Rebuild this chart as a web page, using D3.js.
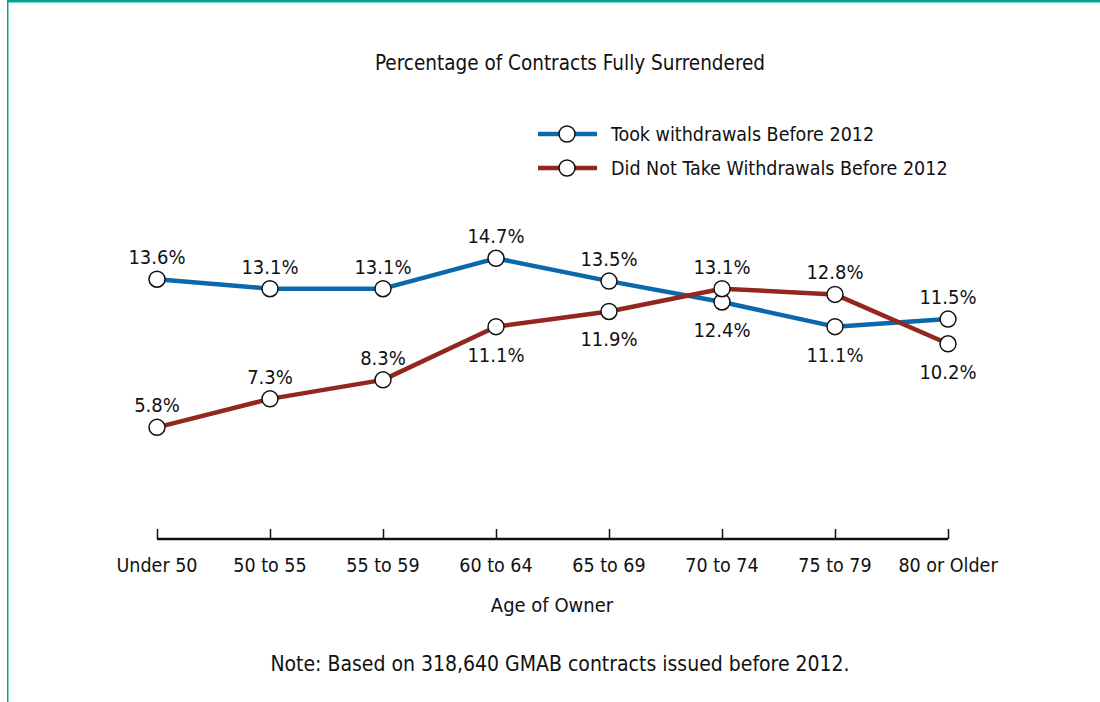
<!DOCTYPE html>
<html>
<head>
<meta charset="utf-8">
<script src="https://cdn.jsdelivr.net/npm/d3@7"></script>
<style>
  html, body { margin: 0; padding: 0; background: #fff; }
  svg { display: block; }
  text { font-family: "Liberation Sans Narrow", "DejaVu Sans Condensed", "Roboto Condensed", sans-serif; fill: #111; }
</style>
</head>
<body>
<svg id="chart" width="1100" height="702"></svg>
<script>
const categories = ["Under 50", "50 to 55", "55 to 59", "60 to 64", "65 to 69", "70 to 74", "75 to 79", "80 or Older"];
const tookValues = [13.6, 13.1, 13.1, 14.7, 13.5, 12.4, 11.1, 11.5];
const notTookValues = [5.8, 7.3, 8.3, 11.1, 11.9, 13.1, 12.8, 10.2];
// label placement: "a" above, "b" below
const tookLabelPos = ["a", "a", "a", "a", "a", "b", "b", "a"];
const notTookLabelPos = ["a", "a", "a", "b", "b", "a", "a", "b"];
const seriesNames = ["Took withdrawals Before 2012", "Did Not Take Withdrawals Before 2012"];
const seriesColors = ["#0b68aa", "#93261f"];

const svg = d3.select("#chart");

// frame
svg.append("rect").attr("x", 7).attr("y", 0).attr("width", 1093).attr("height", 2.5).attr("fill", "#00a38c");
svg.append("rect").attr("x", 7).attr("y", 0).attr("width", 1.5).attr("height", 702).attr("fill", "#00a38c");

const x = d3.scalePoint().domain(categories).range([157, 948]);
const y = d3.scaleLinear().domain([0, 14.7]).range([537.5, 258.3]);

// title
svg.append("text").attr("x", 570).attr("y", 70).attr("text-anchor", "middle")
  .attr("font-size", 20.5).text("Percentage of Contracts Fully Surrendered");

// axis
const axisG = svg.append("g").attr("transform", "translate(0,539)");
axisG.call(d3.axisTop(x).tickSize(10).tickFormat(""));
axisG.select(".domain").attr("d", `M${x(categories[0])},0H${x(categories[categories.length-1])}`)
  .attr("stroke", "#111").attr("stroke-width", 2.5);
axisG.selectAll(".tick line").attr("stroke", "#111").attr("stroke-width", 1.5);

svg.append("g").selectAll("text").data(categories).join("text")
  .attr("x", d => x(d)).attr("y", 572).attr("text-anchor", "middle")
  .attr("font-size", 19.5).text(d => d);

svg.append("text").attr("x", 552).attr("y", 612).attr("text-anchor", "middle")
  .attr("font-size", 20).text("Age of Owner");

svg.append("text").attr("x", 560).attr("y", 671).attr("text-anchor", "middle")
  .attr("font-size", 21).text("Note: Based on 318,640 GMAB contracts issued before 2012.");

const line = d3.line().x((d, i) => x(categories[i])).y(d => y(d));

const series = [
  { name: seriesNames[0], values: tookValues, pos: tookLabelPos, color: seriesColors[0] },
  { name: seriesNames[1], values: notTookValues, pos: notTookLabelPos, color: seriesColors[1] }
];

series.forEach(s => {
  svg.append("path").datum(s.values).attr("d", line)
    .attr("fill", "none").attr("stroke", s.color).attr("stroke-width", 4.5).attr("stroke-linejoin", "round");
});

series.forEach(s => {
  svg.append("g").selectAll("circle").data(s.values).join("circle")
    .attr("cx", (d, i) => x(categories[i])).attr("cy", d => y(d)).attr("r", 8)
    .attr("fill", "#fff").attr("stroke", "#111").attr("stroke-width", 1.5);
  svg.append("g").selectAll("text").data(s.values).join("text")
    .attr("x", (d, i) => x(categories[i]))
    .attr("y", (d, i) => s.pos[i] === "a" ? y(d) - 15 : y(d) + 35)
    .attr("text-anchor", "middle").attr("font-size", 20)
    .text(d => d.toFixed(1) + "%");
});

// legend
const legend = svg.append("g");
series.forEach((s, i) => {
  const ly = 134 + i * 34;
  legend.append("line").attr("x1", 538).attr("x2", 597).attr("y1", ly).attr("y2", ly)
    .attr("stroke", s.color).attr("stroke-width", 4.5);
  legend.append("circle").attr("cx", 567).attr("cy", ly).attr("r", 8)
    .attr("fill", "#fff").attr("stroke", "#111").attr("stroke-width", 1.5);
  legend.append("text").attr("x", 611).attr("y", ly + 7).attr("font-size", 19.5).text(s.name);
});
</script>
</body>
</html>
